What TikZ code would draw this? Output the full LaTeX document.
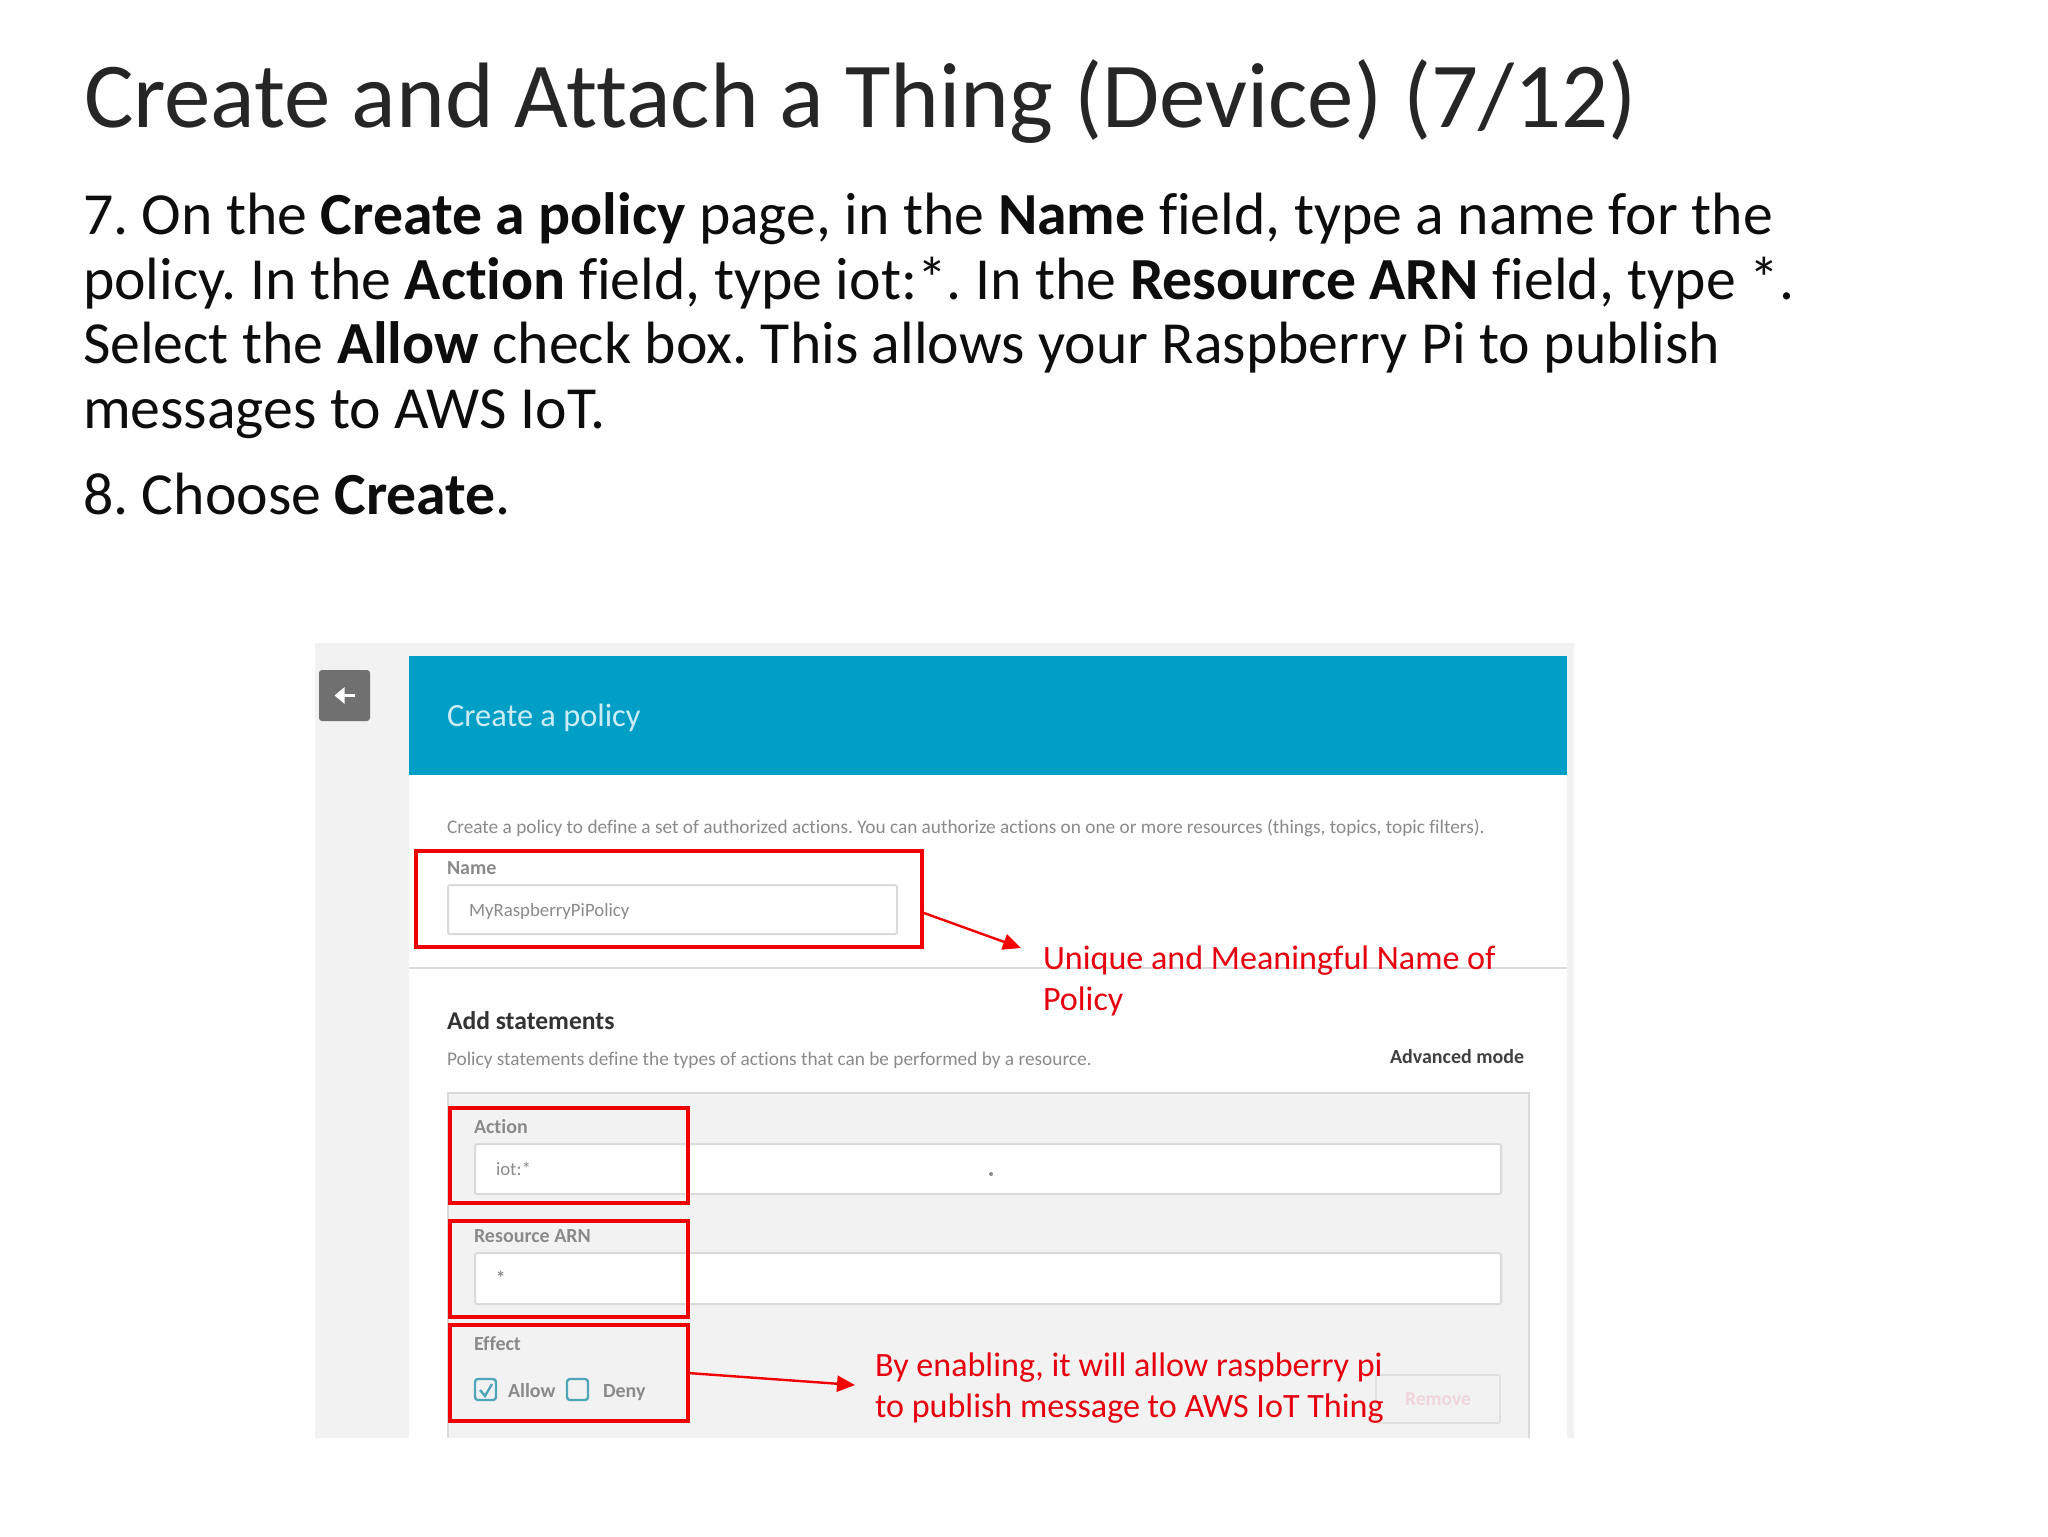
\documentclass[tikz,border=0pt]{standalone}
\usepackage{fontspec}
\setmainfont[Ligatures=NoCommon]{Carlito}
\frenchspacing
\usetikzlibrary{positioning, arrows.meta, calc}
\definecolor{bannerblue}{HTML}{019FC6}
\definecolor{stripgrey}{HTML}{F2F2F3}
\definecolor{markred}{HTML}{F00000}
\definecolor{notered}{HTML}{E6000F}
\definecolor{fadetext}{HTML}{8A8A8A}
\definecolor{fieldline}{HTML}{DADADC}
\definecolor{tickblue}{HTML}{4FA6B8}
\definecolor{fadepink}{HTML}{F0D5DA}
\tikzset{
    x=0.5pt, y=-0.5pt,
    every node/.style={inner sep=0pt, outer sep=0pt},
    headline/.style={anchor=base west, text=black!85, font=\fontsize{46.45}{50}\selectfont},
    bodytext/.style={anchor=base west, align=left, text=black!95, font=\fontsize{29.87}{32.2}\selectfont},
    notetext/.style={anchor=base west, align=left, text=notered, font=\fontsize{17.05}{20.5}\selectfont},
    pagetext/.style={anchor=base west, text=fadetext, font=\fontsize{9.65}{11}\selectfont},
    pagebold/.style={anchor=base west, text=fadetext, font=\bfseries\fontsize{10}{12}\selectfont},
    inputfield/.style={draw=fieldline, fill=white, line width=1pt, rounded corners=1pt, anchor=north west},
    redbox/.style={draw=markred, line width=2.3pt, anchor=north west},
    redarrow/.style={draw=markred, line width=1.2pt, -{Triangle[length=9pt, width=8pt]}},
    tickbox/.style={draw=tickblue, line width=1.2pt, rounded corners=1.5pt, anchor=north west, minimum width=10.5pt, minimum height=10.5pt},
}

\begin{document}
\begin{tikzpicture}
    \useasboundingbox (0,0) rectangle (2048,1536);
    \fill[white] (0,0) rectangle (2048,1536);

    % screenshot background
    \fill[stripgrey] (315,643) rectangle (1574,1438);
    \fill[white] (409,775) rectangle (1567,1438);
    \fill[bannerblue] (409,656) rectangle (1567,775);
    \draw[fieldline, line width=0.7pt] (409,968) -- (1567,968);
    \filldraw[fill=stripgrey, draw=fieldline, line width=0.8pt] (448,1438) -- (448,1093) -- (1529,1093) -- (1529,1438);

    % back button
    \node[fill=black!56, rounded corners=1.5pt, minimum width=25.5pt, minimum height=25.5pt, anchor=north west] (back) at (319,670) {};
    \draw[white, line width=1.6pt, -{Triangle[length=5pt, width=8pt]}] ($(back.center)+(10,0)$) -- ($(back.center)+(-10,0)$);

    % heading and steps
    \node[headline] (title) at (84,127) {Create and Attach a Thing (Device) (7/12)};
    \node[bodytext] (step7) at (83,428) {7. On the \textbf{Create a policy} page, in the \textbf{Name} field, type a name for the\\
        policy. In the \textbf{Action} field, type iot:*. In the \textbf{Resource ARN} field, type *.\\
        Select the \textbf{Allow} check box. This allows your Raspberry Pi to publish\\
        messages to AWS IoT.};
    \node[bodytext] (step8) at (83,514) {8. Choose \textbf{Create}.};

    % page contents
    \node[anchor=base west, text=white!80!bannerblue, font=\fontsize{16.2}{18}\selectfont] (pagetitle) at (447,726) {Create a policy};
    \node[pagetext] (intro) at (447,833) {Create a policy to define a set of authorized actions. You can authorize actions on one or more resources (things, topics, topic filters).};
    \node[pagebold] (namelabel) at (447,874) {Name};
    \node[inputfield, minimum width=224.5pt, minimum height=24.5pt] (namefield) at (448,885) {};
    \node[pagetext, font=\fontsize{9.4}{11}\selectfont] (nametext) at (469,916) {MyRaspberryPiPolicy};
    \node[anchor=base west, text=black!80, font=\bfseries\fontsize{12.8}{14}\selectfont] (addhead) at (447,1029) {Add statements};
    \node[pagetext] (addnote) at (447,1065) {Policy statements define the types of actions that can be performed by a resource.};
    \node[pagebold, text=black!75] (advanced) at (1390,1063) {Advanced mode};

    \node[pagebold] (actionlabel) at (474,1133) {Action};
    \node[inputfield, minimum width=513pt, minimum height=25pt] (actionfield) at (475,1144) {};
    \node[pagetext, font=\fontsize{9.4}{11}\selectfont] (actiontext) at (496,1175) {iot:*};
    \fill[fadetext] (991,1174) circle (1pt);
    \node[pagebold] (arnlabel) at (474,1242) {Resource ARN};
    \node[inputfield, minimum width=513pt, minimum height=25.5pt] (arnfield) at (475,1253) {};
    \node[pagetext, font=\bfseries\fontsize{9.4}{11}\selectfont] (arntext) at (496,1284) {*};
    \node[pagebold] (effectlabel) at (474,1350) {Effect};

    \node[tickbox] (allowbox) at (475,1379) {};
    \node[tickbox] (denybox) at (567,1379) {};
    \draw[tickblue, line width=1.2pt] (480,1390) -- (485,1396) -- (492,1384);
    \node[pagebold] (allowtext) at (508,1397) {Allow};
    \node[pagebold] (denytext) at (603,1397) {Deny};

    \node[draw=black!12, line width=0.8pt, rounded corners=1pt, minimum width=62pt, minimum height=24pt, anchor=north west,
        text=fadepink, font=\bfseries\fontsize{9.8}{11}\selectfont] (removebtn) at (1376,1375) {Remove};

    % red marks
    \node[redbox, minimum width=253pt, minimum height=48pt] (namemark) at (416,851) {};
    \node[redbox, minimum width=119pt, minimum height=47.5pt] (actionmark) at (450,1108) {};
    \node[redbox, minimum width=119pt, minimum height=48pt] (arnmark) at (450,1221) {};
    \node[redbox, minimum width=119pt, minimum height=48pt] (effectmark) at (450,1325) {};

    \node[notetext] (namenote) at (1043,1010.5) {Unique and Meaningful Name of\\Policy};
    \node[notetext] (effectnote) at (875,1417) {By enabling, it will allow raspberry pi\\to publish message to AWS IoT Thing};

    \coordinate (nametip) at (1021,948);
    \coordinate (effecttip) at (855,1385);
    \draw[redarrow] (namemark.-3.2) -- (nametip);
    \draw[redarrow] (effectmark.east) -- (effecttip);
\end{tikzpicture}
\end{document}
